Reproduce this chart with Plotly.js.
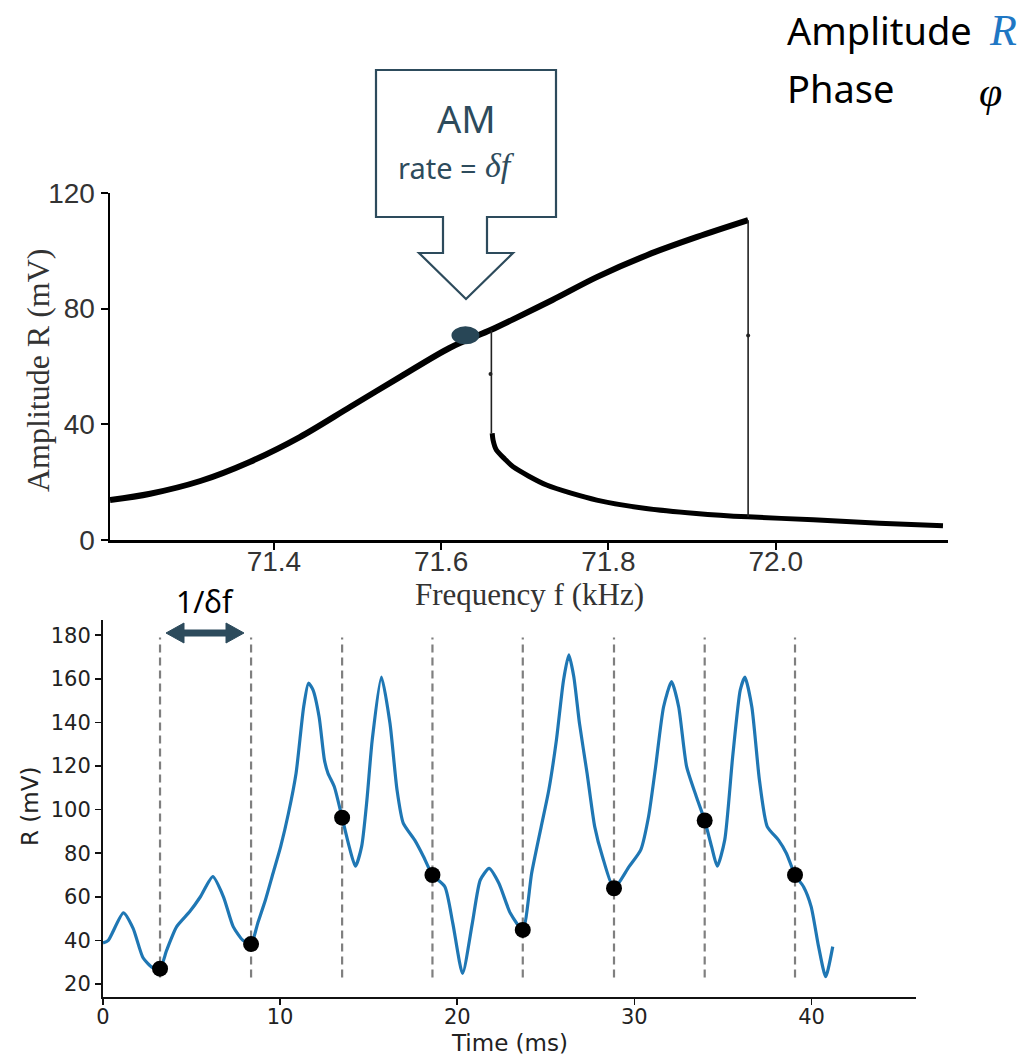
<!DOCTYPE html>
<html>
<head>
<meta charset="utf-8">
<script src="https://cdn.plot.ly/plotly-3.0.1.min.js"></script>
<style>
  html, body { margin: 0; padding: 0; background: #ffffff; }
  #chart { width: 1032px; height: 1058px; }
</style>
</head>
<body>
<div id="chart"></div>
<script>
// ---------------- Data: frequency sweep (top panel) ----------------
const freqUp = [71.204, 71.252, 71.312, 71.371, 71.431, 71.491, 71.551, 71.610, 71.659, 71.686, 71.733, 71.786, 71.846, 71.906, 71.967];
const ampUp  = [13.8, 16.0, 20.4, 27.0, 35.6, 46.0, 56.4, 66.4, 72.6, 76.3, 83.0, 90.9, 98.5, 104.8, 110.6];

const freqLow = [71.661, 71.662, 71.666, 71.676, 71.686, 71.726, 71.786, 71.845, 71.905, 71.967, 72.045, 72.124, 72.200];
const ampLow  = [36.9, 34.6, 31.1, 28.0, 25.3, 19.0, 13.8, 10.9, 9.2, 8.0, 7.0, 5.8, 4.9];

const jumpFreqs = [71.660, 71.967];
const jumpFrom  = [72.6, 8.0];
const jumpTo    = [36.9, 110.6];
const jumpDotF  = [71.659, 71.967];
const jumpDotR  = [57.4, 70.7];

const amPointF = 71.629;
const amPointR = 70.8;

const freqTicks = [71.4, 71.6, 71.8, 72.0];
const ampTicks  = [0, 40, 80, 120];

// ---------------- Data: time trace (bottom panel) ----------------
const timeMs = [0, 0.3, 1.15, 1.7, 2.26, 2.8, 3.22, 3.6, 4.16, 4.9,
  5.5, 6.2, 6.8, 7.35, 7.9, 8.36, 8.74, 9.17, 9.6, 10.03,
  10.47, 10.9, 11.33, 11.6, 11.85, 12.2, 12.5, 12.7, 13.06, 13.5,
  13.9, 14.25, 14.6, 14.9, 15.2, 15.72, 16.2, 16.6, 16.95, 17.6,
  18.1, 18.6, 19.3, 19.75, 20.3, 20.85, 21.3, 21.8, 22.35, 23.0,
  23.7, 24.2, 24.74, 25.17, 25.6, 26.0, 26.3, 26.58, 26.9, 27.33,
  27.76, 28.2, 28.85, 29.7, 30.36, 30.8, 31.2, 31.65, 32.1, 32.5,
  32.95, 33.5, 33.97, 34.36, 34.68, 35.1, 35.55, 35.98, 36.24, 36.63,
  37.06, 37.5, 38.14, 38.58, 39.07, 39.55, 39.98, 40.4, 40.8, 41.2];
const rmV = [38.8, 40, 52.6, 45.5, 32, 27.5, 27, 35.6, 46.3, 53.2,
  60, 69.2, 60, 46.3, 40, 38.3, 48, 58.5, 70.8, 83,
  98.3, 116.7, 147.2, 158, 155, 142.6, 122.8, 116.7, 110.5, 96.3,
  83, 74, 83, 104.4, 132, 160.8, 139.7, 109, 93.8, 86,
  78.4, 70, 64.6, 47.8, 24.8, 47.8, 67.7, 73, 66.2, 52.4,
  44.8, 70.8, 92.2, 109, 132, 159.4, 171, 161, 139.6, 116.7,
  92.2, 78.4, 63.9, 73.8, 81.5, 96.7, 119.7, 147.2, 158.7, 147.2,
  119.7, 105.9, 95, 83, 74, 86, 124.3, 154.9, 160.8, 147.2,
  113.6, 92.2, 86, 80, 70, 64.6, 55.5, 37.1, 23.3, 37.1];

const sampleTimes  = [3.22, 8.36, 13.5, 18.6, 23.7, 28.85, 33.97, 39.07];
const sampleValues = [27, 38.3, 96.3, 70, 44.8, 63.9, 95, 70];
const guideLow = 23, guideHigh = 179;

const timeTicks = [0, 10, 20, 30, 40];
const rTicks = [20, 40, 60, 80, 100, 120, 140, 160, 180];

// ---------------- Page geometry helpers ----------------
const W = 1032, H = 1058;
const px = x => x / W;
const py = y => 1 - y / H;
const slate = '#2d4b5c';

// vertical jumps & guide lines built from the arrays
const jx = [], jy = [];
jumpFreqs.forEach((f, i) => { jx.push(f, f, null); jy.push(jumpFrom[i], jumpTo[i], null); });
const gx = [], gy = [];
sampleTimes.forEach(t => { gx.push(t, t, null); gy.push(guideLow, guideHigh, null); });

const traces = [
  { x: freqUp, y: ampUp, xaxis: 'x', yaxis: 'y', mode: 'lines',
    line: { color: '#000', width: 6, shape: 'spline', smoothing: 0.9 }, hoverinfo: 'skip' },
  { x: freqLow, y: ampLow, xaxis: 'x', yaxis: 'y', mode: 'lines',
    line: { color: '#000', width: 5, shape: 'spline', smoothing: 0.7 }, hoverinfo: 'skip' },
  { x: jx, y: jy, xaxis: 'x', yaxis: 'y', mode: 'lines',
    line: { color: '#222', width: 1.6 }, hoverinfo: 'skip' },
  { x: jumpDotF, y: jumpDotR, xaxis: 'x', yaxis: 'y', mode: 'markers',
    marker: { color: '#222', size: 4 }, hoverinfo: 'skip' },

  { x: gx, y: gy, xaxis: 'x2', yaxis: 'y2', mode: 'lines',
    line: { color: '#7f7f7f', width: 2.2, dash: '8px,5px' }, hoverinfo: 'skip' },
  { x: timeMs, y: rmV, xaxis: 'x2', yaxis: 'y2', mode: 'lines',
    line: { color: '#1f77b4', width: 3.2, shape: 'spline', smoothing: 0.6 }, hoverinfo: 'skip' },
  { x: sampleTimes, y: sampleValues, xaxis: 'x2', yaxis: 'y2', mode: 'markers',
    marker: { color: '#000', size: 16 }, hoverinfo: 'skip' }
];

const calloutPts = [[376,70],[556,70],[556,217],[487,217],[487,253],[513,253],[466,299],[419,253],[443,253],[443,217],[376,217]];
const calloutPath = 'M' + calloutPts.map(p => px(p[0]) + ',' + py(p[1])).join(' L') + ' Z';
const arrowPts = [[166,633],[184,623],[184,630],[226,630],[226,623],[244,633],[226,643],[226,636],[184,636],[184,643]];
const arrowPath = 'M' + arrowPts.map(p => px(p[0]) + ',' + py(p[1])).join(' L') + ' Z';

const ann = (text, x, y, font, extra) => Object.assign({
  text, x: px(x), y: py(y), xref: 'paper', yref: 'paper',
  xanchor: 'center', yanchor: 'middle', showarrow: false, font
}, extra || {});

const layout = {
  width: W, height: H,
  margin: { l: 0, r: 0, t: 0, b: 0 },
  paper_bgcolor: '#fff', plot_bgcolor: '#fff',
  showlegend: false,
  xaxis: {
    domain: [px(110), px(948)], range: [71.204, 72.206], anchor: 'y',
    tickvals: freqTicks, tickformat: '.1f',
    showline: true, linecolor: '#000', linewidth: 2.5, mirror: false,
    ticks: 'outside', ticklen: 7, tickwidth: 2, tickcolor: '#000',
    ticklabelstandoff: -12,
    showgrid: false, zeroline: false,
    tickfont: { family: 'Liberation Sans', size: 28, color: '#333' }
  },
  yaxis: {
    domain: [py(540), py(193)], range: [0, 120], anchor: 'x',
    tickvals: ampTicks,
    showline: true, linecolor: '#000', linewidth: 2.5,
    ticks: 'outside', ticklen: 7, tickwidth: 2, tickcolor: '#000',
    showgrid: false, zeroline: false,
    tickfont: { family: 'Liberation Sans', size: 28, color: '#333' }
  },
  xaxis2: {
    domain: [px(103), px(916)], range: [0, 45.9], anchor: 'y2',
    tickvals: timeTicks,
    showline: true, linecolor: '#111', linewidth: 2,
    ticks: 'outside', ticklen: 6, tickwidth: 1.6, tickcolor: '#111',
    ticklabelstandoff: -6,
    showgrid: false, zeroline: false,
    tickfont: { family: 'DejaVu Sans', size: 21, color: '#222' }
  },
  yaxis2: {
    domain: [py(997), py(620)], range: [14, 187], anchor: 'x2',
    tickvals: rTicks,
    showline: true, linecolor: '#111', linewidth: 2,
    ticks: 'outside', ticklen: 6, tickwidth: 1.6, tickcolor: '#111',
    showgrid: false, zeroline: false,
    tickfont: { family: 'DejaVu Sans', size: 21, color: '#222' }
  },
  shapes: [
    { type: 'path', xref: 'paper', yref: 'paper', path: calloutPath,
      line: { color: slate, width: 2.2 }, fillcolor: '#ffffff' },
    { type: 'path', xref: 'paper', yref: 'paper', path: arrowPath,
      line: { color: slate, width: 1 }, fillcolor: slate },
    { type: 'circle', xref: 'x', yref: 'y',
      xsizemode: 'pixel', ysizemode: 'pixel', xanchor: amPointF, yanchor: amPointR,
      x0: -14, x1: 14, y0: -9, y1: 9,
      fillcolor: '#284656', line: { width: 0 } }
  ],
  annotations: [
    ann('Frequency f (kHz)', 529, 594, { family: 'Liberation Serif', size: 31, color: '#333' }),
    ann('Amplitude R (mV)', 38, 370, { family: 'Liberation Serif', size: 32, color: '#333' }, { textangle: -90 }),
    ann('Time (ms)', 509, 1043, { family: 'DejaVu Sans', size: 23, color: '#222' }),
    ann('R (mV)', 30, 807, { family: 'DejaVu Sans', size: 23, color: '#222' }, { textangle: -90 }),
    ann('AM', 466, 118, { family: 'Noto Sans', size: 38, color: slate }),
    ann('rate = ', 441, 167, { family: 'Noto Sans', size: 29, color: slate }),
    ann('<i>δf</i>', 500, 166, { family: 'Liberation Serif', size: 34, color: slate }),
    ann('1/δf', 205, 601, { family: 'Noto Sans', size: 30, color: '#000' }),
    ann('Amplitude', 785, 30, { family: 'Noto Sans', size: 38, color: '#000' }, { xanchor: 'left' }),
    ann('<i>R</i>', 987, 30, { family: 'Liberation Serif', size: 44, color: '#1f77c4' }, { xanchor: 'left' }),
    ann('Phase', 785, 88, { family: 'Noto Sans', size: 38, color: '#000' }, { xanchor: 'left' }),
    ann('<i>φ</i>', 977, 92, { family: 'Liberation Serif', size: 42, color: '#000' }, { xanchor: 'left' })
  ]
};

Plotly.newPlot('chart', traces, layout, { staticPlot: true, displayModeBar: false });
</script>
</body>
</html>
